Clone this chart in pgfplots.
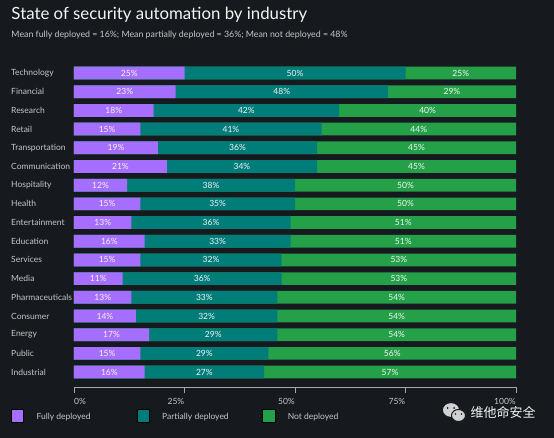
\documentclass[border=0pt]{standalone}
\usepackage{fontspec}
\setmainfont{Lato}
\newfontfamily\cjk{Noto Sans CJK SC}
\usepackage{pgfplots}
\usepackage{pgfplotstable}
\pgfplotsset{compat=1.18}
\definecolor{bg}{HTML}{161A1E}
\definecolor{purp}{HTML}{A56EFF}
\definecolor{tealc}{HTML}{007D79}
\definecolor{grn}{HTML}{24A148}
\definecolor{lbl}{HTML}{C6C6C6}
\definecolor{wht}{HTML}{F4F4F4}
\definecolor{axgray}{HTML}{A8A8A8}

\pgfplotstableread{
y name a b c
16 Technology 25 50 25
15 Financial 23 48 29
14 Research 18 42 40
13 Retail 15 41 44
12 Transportation 19 36 45
11 Communication 21 34 45
10 Hospitality 12 38 50
9 Health 15 35 50
8 Entertainment 13 36 51
7 Education 16 33 51
6 Services 15 32 53
5 Media 11 36 53
4 Pharmaceuticals 13 33 54
3 Consumer 14 32 54
2 Energy 17 29 54
1 Public 15 29 56
0 Industrial 16 27 57
}\data

\begin{document}
\begin{tikzpicture}
\fill[bg] (-74pt,-51pt) rectangle (480pt,387pt);
\begin{axis}[
  at={(0pt,0pt)}, anchor=south west,
  scale only axis, width=442pt, height=323.3pt,
  xmin=0, xmax=100, ymin=-0.8, ymax=16.5,
  /pgf/number format/assume math mode=true,
  axis x line*=bottom, axis y line*=left,
  y axis line style={draw=none},
  x axis line style={draw=axgray, line width=0.8pt, -},
  ytick={0,...,16},
  yticklabels={Industrial,Public,Energy,Consumer,Pharmaceuticals,Media,Services,Education,Entertainment,Health,Hospitality,Communication,Transportation,Retail,Research,Financial,Technology},
  ytick style={draw=none},
  yticklabel style={anchor=west, inner sep=0pt, xshift=-63pt, font=\fontsize{8.5}{10}\selectfont, text=lbl},
  xtick={25,50,75,100}, xticklabels={25\%,50\%,75\%,100\%},
  extra x ticks={0}, extra x tick labels={0\%},
  extra x tick style={xticklabel style={anchor=north west}},
  xtick align=outside, major tick length=6.3pt,
  xtick style={draw=axgray, line width=0.8pt},
  xticklabel style={anchor=north east, inner sep=0pt, yshift=-5pt, font=\fontsize{8.5}{10}\selectfont, text=lbl},
  bar width=12.7pt,
  clip=false,
  legend columns=3,
  legend cell align=left,
  legend image code/.code={\fill[#1] (0pt,-5pt) rectangle (12.5pt,7.5pt);},
  legend style={at={(0,0)}, anchor=north west, xshift=-63pt, yshift=-22.5pt, draw=none, fill=none, inner sep=0pt, outer sep=0pt, text=lbl, font=\fontsize{8.5}{10}\selectfont, /tikz/every odd column/.append style={column sep=12.7pt}, nodes={inner sep=0pt}},
  lab/.style={forget plot, draw=none, mark=none, point meta=explicit, nodes near coords={\pgfmathprintnumber{\pgfplotspointmeta}\%}, every node near coord/.style={anchor=center, inner sep=0pt, font=\fontsize{8.5}{10}\selectfont, text=wht}},
]
\addplot[forget plot, xbar, bar shift=0pt, fill=grn, draw=none] table[x expr=\thisrow{a}+\thisrow{b}+\thisrow{c}, y=y]{\data};
\addplot[forget plot, xbar, bar shift=0pt, fill=tealc, draw=none] table[x expr=\thisrow{a}+\thisrow{b}, y=y]{\data};
\addplot[forget plot, xbar, bar shift=0pt, fill=purp, draw=none] table[x=a, y=y]{\data};
\addplot[lab] table[x expr=\thisrow{a}/2, y=y, meta=a]{\data};
\addplot[lab] table[x expr=\thisrow{a}+\thisrow{b}/2, y=y, meta=b]{\data};
\addplot[lab] table[x expr=\thisrow{a}+\thisrow{b}+\thisrow{c}/2, y=y, meta=c]{\data};
\addlegendimage{fill=purp}
\addlegendentry{\makebox[100pt][l]{Fully deployed}}
\addlegendimage{fill=tealc}
\addlegendentry{\makebox[100pt][l]{Partially deployed}}
\addlegendimage{fill=grn}
\addlegendentry{Not deployed}
\end{axis}
\node[anchor=base west, inner sep=0pt, text=wht, font=\fontsize{16.8}{20}\selectfont] at (-62.7pt,367pt) {State of security automation by industry};
\node[anchor=base west, inner sep=0pt, text=lbl, font=\fontsize{8.8}{10}\selectfont] at (-62.7pt,349.2pt) {Mean fully deployed = 16\%; Mean partially deployed = 36\%; Mean not deployed = 48\%};
% watermark
\fill[lbl!80!white] (377pt,-23pt) ellipse [x radius=8pt, y radius=6.8pt];
\fill[bg] (373.5pt,-21pt) circle (1pt);
\fill[bg] (380pt,-21pt) circle (1pt);
\filldraw[fill=lbl!80!white, draw=bg, line width=1pt] (384.5pt,-28.5pt) ellipse [x radius=7pt, y radius=6pt];
\fill[bg] (381.5pt,-27pt) circle (0.9pt);
\fill[bg] (387.5pt,-27pt) circle (0.9pt);
\node[anchor=west, inner sep=0pt, text=wht, font=\cjk\fontsize{13}{14}\selectfont] at (396.5pt,-25.3pt) {维他命安全};
\pgfresetboundingbox
\useasboundingbox (-74pt,-51pt) rectangle (480pt,387pt);
\end{tikzpicture}
\end{document}
